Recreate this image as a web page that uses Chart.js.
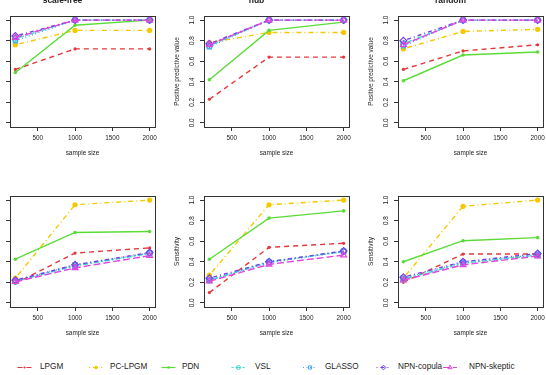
<!DOCTYPE html>
<html>
<head>
<meta charset="utf-8">
<script src="https://cdn.jsdelivr.net/npm/chart.js@4.4.1/dist/chart.umd.min.js"></script>
<style>
    html, body { margin: 0; padding: 0; background: #fff; }
    body { width: 546px; height: 375px; position: relative; overflow: hidden; font-family: "Liberation Sans", Arial, sans-serif; }
    canvas.pannello { position: absolute; }
    .voce { position: absolute; top: 361px; height: 12px; line-height: 12px; font-size: 8.2px; color: #222; white-space: nowrap; }
    #simboli { position: absolute; left: 0; top: 361px; }
</style>
</head>
<body>
<svg id="simboli" width="546" height="12"></svg>
<script>
const sampleSizes = [200, 1000, 2000];
const methods = ['LPGM', 'PC-LPGM', 'PDN', 'VSL', 'GLASSO', 'NPN-copula', 'NPN-skeptic'];
const networkTypes = ['scale-free', 'hub', 'random'];
const xTicks = [500, 1000, 1500, 2000];
const yTicks = [0, 0.2, 0.4, 0.6, 0.8, 1.0];

// una riga per metodo, valori a n = 200 / 1000 / 2000
const ppvScaleFree = [
    [0.52, 0.72, 0.72],
    [0.76, 0.90, 0.90],
    [0.49, 0.95, 1.00],
    [0.82, 1.00, 1.00],
    [0.80, 1.00, 1.00],
    [0.845, 1.00, 1.00],
    [0.83, 1.00, 1.00]
];
const ppvHub = [
    [0.23, 0.64, 0.64],
    [0.78, 0.88, 0.88],
    [0.42, 0.90, 0.98],
    [0.75, 1.00, 1.00],
    [0.74, 1.00, 1.00],
    [0.77, 1.00, 1.00],
    [0.76, 1.00, 1.00]
];
const ppvRandom = [
    [0.52, 0.70, 0.76],
    [0.72, 0.89, 0.91],
    [0.41, 0.66, 0.69],
    [0.77, 1.00, 1.00],
    [0.75, 1.00, 1.00],
    [0.80, 1.00, 1.00],
    [0.76, 1.00, 1.00]
];
const sensScaleFree = [
    [0.19, 0.485, 0.535],
    [0.24, 0.955, 1.00],
    [0.425, 0.685, 0.695],
    [0.21, 0.36, 0.48],
    [0.215, 0.37, 0.485],
    [0.22, 0.37, 0.49],
    [0.205, 0.34, 0.46]
];
const sensHub = [
    [0.10, 0.54, 0.58],
    [0.27, 0.955, 1.00],
    [0.425, 0.825, 0.895],
    [0.22, 0.40, 0.50],
    [0.22, 0.39, 0.50],
    [0.24, 0.40, 0.505],
    [0.21, 0.375, 0.465]
];
const sensRandom = [
    [0.20, 0.475, 0.475],
    [0.24, 0.94, 1.00],
    [0.40, 0.605, 0.635],
    [0.23, 0.385, 0.465],
    [0.24, 0.395, 0.47],
    [0.25, 0.40, 0.48],
    [0.22, 0.37, 0.455]
];

// stili
const colori = ['#E5373A', '#F5C800', '#5CDB38', '#3FD8C8', '#4AA3F5', '#7440E6', '#E245DE'];
const tratti = [[5, 4], [1, 3, 5, 3], [], [2, 2, 5, 2], [1, 2.5], [1, 3, 4, 3], [7, 3]];
const marker = [
    { style: 'circle', r: 1.6, pieno: true },
    { style: 'circle', r: 2.6, pieno: true },
    { style: 'circle', r: 1.8, pieno: true },
    { style: 'circle', r: 2.8, pieno: false },
    { style: 'rect', r: 3.0, pieno: false },
    { style: 'rectRot', r: 3.4, pieno: false },
    { style: 'triangle', r: 3.4, pieno: false }
];

const FONT = '"Liberation Sans", Arial, sans-serif';
const INK = '#222';

const boxPlugin = {
    id: 'boxR',
    afterDraw(chart) {
        const { ctx, chartArea: a } = chart;
        ctx.save();
        ctx.strokeStyle = '#333';
        ctx.lineWidth = 1;
        ctx.strokeRect(Math.round(a.left) + 0.5, Math.round(a.top) + 0.5, Math.round(a.right - a.left), Math.round(a.bottom - a.top));
        ctx.restore();
    }
};

function creaPannello(valori, titolo, yLabel, col, riga) {
    const canvas = document.createElement('canvas');
    canvas.width = 194;
    canvas.height = 180;
    canvas.className = 'pannello';
    canvas.style.left = (-30 + 194 * col) + 'px';
    canvas.style.top = (-20 + 180 * riga) + 'px';
    document.body.appendChild(canvas);

    const datasets = methods.map((m, i) => ({
        label: m,
        data: sampleSizes.map((n, j) => ({ x: n, y: valori[i][j] })),
        borderColor: colori[i],
        borderWidth: 1.4,
        borderDash: tratti[i],
        pointStyle: marker[i].style,
        pointRadius: marker[i].r,
        pointBackgroundColor: marker[i].pieno ? colori[i] : 'rgba(0,0,0,0)',
        pointBorderColor: colori[i],
        pointBorderWidth: marker[i].pieno ? 0 : 1.2,
        fill: false,
        tension: 0,
        order: methods.length - i
    }));

    new Chart(canvas, {
        type: 'line',
        data: { datasets },
        options: {
            responsive: false,
            animation: false,
            devicePixelRatio: 1,
            layout: { padding: { top: titolo ? 0 : 36, right: 9, left: 0, bottom: 0 } },
            plugins: {
                legend: { display: false },
                tooltip: { enabled: false },
                title: {
                    display: !!titolo,
                    text: titolo,
                    color: INK,
                    font: { family: FONT, size: 8.5, weight: 'bold' },
                    padding: { top: 15.2, bottom: 10.6 }
                }
            },
            scales: {
                x: {
                    type: 'linear',
                    min: 128,
                    max: 2072,
                    afterBuildTicks: s => { s.ticks = xTicks.map(v => ({ value: v })); },
                    afterFit: s => { s.height = 33; },
                    ticks: { color: INK, font: { family: FONT, size: 6.4 }, padding: 3, maxRotation: 0, callback: v => String(v) },
                    grid: { drawOnChartArea: false, drawTicks: true, tickLength: 4, color: '#333' },
                    border: { display: false },
                    title: { display: true, text: 'sample size', color: INK, font: { family: FONT, size: 6.4 }, padding: { top: 0, bottom: 3.2 } }
                },
                y: {
                    min: -0.04,
                    max: 1.04,
                    afterBuildTicks: s => { s.ticks = yTicks.map(v => ({ value: v })); },
                    afterFit: s => { s.width = 40; },
                    ticks: {
                        color: INK,
                        font: { family: FONT, size: 6.4 },
                        padding: 3.5,
                        minRotation: 90,
                        maxRotation: 90,
                        crossAlign: 'center',
                        callback: v => v.toFixed(1)
                    },
                    grid: { drawOnChartArea: false, drawTicks: true, tickLength: 4, color: '#333' },
                    border: { display: false },
                    title: { display: true, text: yLabel, color: INK, font: { family: FONT, size: 6.4 }, padding: { top: 9.1, bottom: 0 } }
                }
            }
        },
        plugins: [boxPlugin]
    });
}

const ppv = [ppvScaleFree, ppvHub, ppvRandom];
const sens = [sensScaleFree, sensHub, sensRandom];
networkTypes.forEach((t, c) => {
    creaPannello(ppv[c], t, 'Positive predictive value', c, 0);
    creaPannello(sens[c], '', 'Sensitivity', c, 1);
});

// legenda comune in basso
const legSimbolo = [24.5, 96, 168.5, 238.5, 310, 383.5, 450];
const legTesto = [40, 110, 182, 255, 325, 398, 469];
const svg = document.getElementById('simboli');
const NS = 'http://www.w3.org/2000/svg';
methods.forEach((m, i) => {
    const cx = legSimbolo[i], cy = 6.5;
    const line = document.createElementNS(NS, 'line');
    line.setAttribute('x1', cx - 7);
    line.setAttribute('x2', cx + 7);
    line.setAttribute('y1', cy);
    line.setAttribute('y2', cy);
    line.setAttribute('stroke', colori[i]);
    line.setAttribute('stroke-width', 1.2);
    if (tratti[i].length) line.setAttribute('stroke-dasharray', tratti[i].join(' '));
    svg.appendChild(line);

    const mk = marker[i];
    let el;
    if (mk.style === 'circle') {
        el = document.createElementNS(NS, 'circle');
        el.setAttribute('cx', cx);
        el.setAttribute('cy', cy);
        el.setAttribute('r', mk.r * 0.7);
    } else {
        el = document.createElementNS(NS, 'polygon');
        const r = mk.r * 0.7;
        let pts;
        if (mk.style === 'rect') pts = [[-r * 0.75, -r * 0.75], [r * 0.75, -r * 0.75], [r * 0.75, r * 0.75], [-r * 0.75, r * 0.75]];
        else if (mk.style === 'rectRot') pts = [[0, -r], [r, 0], [0, r], [-r, 0]];
        else pts = [[0, -r], [r * 0.87, r * 0.5], [-r * 0.87, r * 0.5]];
        el.setAttribute('points', pts.map(p => (cx + p[0]) + ',' + (cy + p[1])).join(' '));
    }
    el.setAttribute('fill', mk.pieno ? colori[i] : 'none');
    el.setAttribute('stroke', colori[i]);
    el.setAttribute('stroke-width', mk.pieno ? 0 : 1);
    svg.appendChild(el);

    const span = document.createElement('span');
    span.className = 'voce';
    span.style.left = legTesto[i] + 'px';
    span.textContent = m;
    document.body.appendChild(span);
});
</script>
</body>
</html>
